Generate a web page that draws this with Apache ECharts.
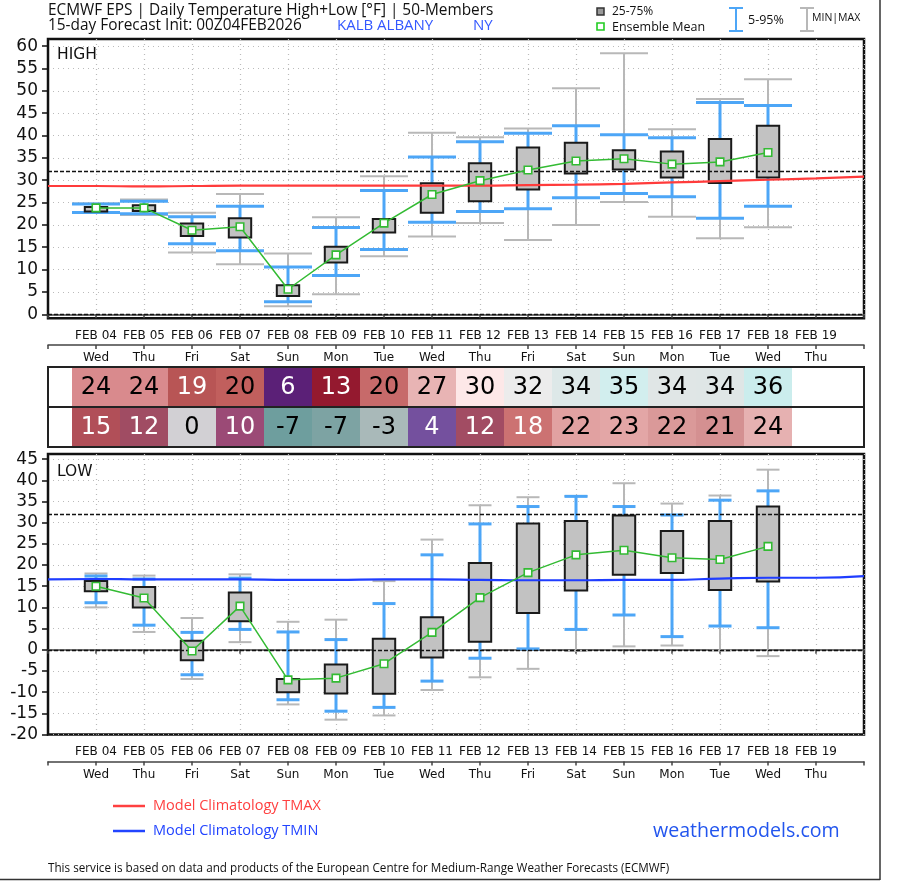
<!DOCTYPE html>
<html>
<head>
<meta charset="utf-8">
<script src="https://cdn.jsdelivr.net/npm/echarts@6/dist/echarts.min.js"></script>
<style>
  html, body { margin: 0; padding: 0; background: #fff; }
  #main { width: 898px; height: 883px; }
</style>
</head>
<body>
<div id="main"></div>
<script>
// axis labels (index 0 and 17 are the empty edges)
var dateLabels = ['', 'FEB 04', 'FEB 05', 'FEB 06', 'FEB 07', 'FEB 08', 'FEB 09', 'FEB 10', 'FEB 11',
  'FEB 12', 'FEB 13', 'FEB 14', 'FEB 15', 'FEB 16', 'FEB 17', 'FEB 18', 'FEB 19', ''];
var dayLabels = ['', 'Wed', 'Thu', 'Fri', 'Sat', 'Sun', 'Mon', 'Tue', 'Wed',
  'Thu', 'Fri', 'Sat', 'Sun', 'Mon', 'Tue', 'Wed', 'Thu', ''];
var days = [1, 2, 3, 4, 5, 6, 7, 8, 9, 10, 11, 12, 13, 14, 15];

var hiTicks = [0, 5, 10, 15, 20, 25, 30, 35, 40, 45, 50, 55, 60];
var loTicks = [-20, -15, -10, -5, 0, 5, 10, 15, 20, 25, 30, 35, 40, 45];

// HIGH
var hiMin  = [22.7, 22.2, 13.8, 11.2, 1.8, 4.5, 13.0, 17.4, 20.4, 16.6, 20.0, 25.1, 21.8, 17.0, 19.5];
var hiP05  = [22.8, 22.5, 15.8, 14.2, 2.8, 8.7, 14.5, 20.6, 23.0, 23.6, 26.1, 27.0, 26.3, 21.5, 24.2];
var hiP25  = [23.0, 23.1, 17.5, 17.2, 4.1, 11.6, 18.3, 22.7, 25.3, 27.9, 31.5, 32.4, 30.6, 29.4, 30.6];
var hiMean = [23.8, 23.8, 18.8, 19.6, 5.6, 13.3, 20.4, 26.8, 29.9, 32.3, 34.3, 34.8, 33.6, 34.1, 36.2];
var hiP75  = [24.0, 24.4, 20.3, 21.5, 6.5, 15.1, 21.3, 29.3, 33.8, 37.3, 38.4, 36.7, 36.4, 39.2, 42.2];
var hiP95  = [24.7, 25.3, 21.8, 24.2, 10.6, 19.4, 27.7, 35.2, 38.6, 40.5, 42.2, 40.2, 39.5, 47.4, 46.7];
var hiMax  = [24.8, 25.7, 22.7, 26.9, 13.6, 21.7, 30.9, 40.6, 39.6, 41.6, 50.6, 58.4, 41.4, 48.2, 52.6];
var climoMax = [28.7, 28.7, 28.6, 28.7, 28.8, 28.8, 28.8, 28.8, 28.8, 28.8, 28.9, 29.0, 29.2, 29.5, 29.8, 30.1, 30.4, 30.8];

// LOW
var loMin  = [10.0, 4.2, -6.9, 1.8, -12.9, -16.5, -15.5, -9.5, -6.5, -4.5, -0.3, 0.8, 1.0, -0.2, -1.5];
var loP05  = [11.1, 5.8, -5.9, 4.8, -11.8, -14.5, -13.6, -7.4, -2.0, 0.2, 4.8, 8.2, 3.1, 5.6, 5.2];
var loP25  = [13.8, 10.0, -2.5, 6.7, -10.0, -10.3, -10.4, -1.8, 1.9, 8.7, 14.0, 17.7, 18.1, 14.1, 16.1];
var loMean = [15.0, 12.2, -0.3, 10.3, -7.1, -6.7, -3.3, 4.1, 12.3, 18.2, 22.4, 23.5, 21.7, 21.3, 24.4];
var loP75  = [16.2, 14.8, 2.1, 13.5, -6.9, -3.5, 2.6, 7.7, 20.5, 29.8, 30.4, 31.7, 28.0, 30.4, 33.8];
var loP95  = [17.4, 16.7, 4.1, 16.9, 4.2, 2.4, 10.9, 22.4, 29.7, 33.8, 36.2, 33.8, 31.8, 35.3, 37.5];
var loMax  = [18.0, 17.5, 7.5, 17.8, 6.6, 7.1, 16.2, 26.0, 34.1, 36.0, 36.3, 39.3, 34.5, 36.4, 42.5];
var climoMin = [16.6, 16.7, 16.6, 16.6, 16.6, 16.5, 16.5, 16.6, 16.6, 16.5, 16.4, 16.4, 16.5, 16.5, 16.8, 17.0, 17.0, 17.4];

// table
var hiTable = [24, 24, 19, 20, 6, 13, 20, 27, 30, 32, 34, 35, 34, 34, 36];
var loTable = [15, 12, 0, 10, -7, -7, -3, 4, 12, 18, 22, 23, 22, 21, 24];
var hiCellColors = ['#d98a8d', '#d98a8d', '#b85555', '#c15f5d', '#5b2077', '#94192f', '#c76a6a', '#e8b4b4',
  '#fde8e8', '#ececec', '#dde8e8', '#d2eeee', '#e0e6e6', '#dfe6e6', '#cbeded'];
var hiTextColors = ['#000', '#000', '#fff', '#000', '#fff', '#fff', '#000', '#000',
  '#000', '#000', '#000', '#000', '#000', '#000', '#000'];
var loCellColors = ['#b14f58', '#a04c63', '#d2d0d4', '#9b4a76', '#6e9e9e', '#7da3a3', '#a9b9b9', '#74509e',
  '#a24c63', '#cc7272', '#e1a1a1', '#e3a6a6', '#da9999', '#d49091', '#e6b1b1'];
var loTextColors = ['#fff', '#fff', '#000', '#fff', '#000', '#000', '#000', '#fff',
  '#fff', '#fff', '#000', '#000', '#000', '#000', '#000'];

var BLUE = '#4da6f7', GRAY = '#b8b8b8', GREEN = '#33bb33';
var TXT = 'DejaVu Sans', SANS = 'Open Sans';

function pairs(xs, a, b) {
  return xs.map(function (x, i) { return b ? [x, a[i], b[i]] : [x, a[i]]; });
}

function whisker(color, lw, half) {
  return function (params, api) {
    var x = api.value(0);
    var a = api.coord([x, api.value(1)]);
    var b = api.coord([x, api.value(2)]);
    var st = { stroke: color, lineWidth: lw };
    return {
      type: 'group', children: [
        { type: 'line', shape: { x1: a[0], y1: a[1], x2: b[0], y2: b[1] }, style: st },
        { type: 'line', shape: { x1: a[0] - half, y1: a[1], x2: a[0] + half, y2: a[1] }, style: st },
        { type: 'line', shape: { x1: b[0] - half, y1: b[1], x2: b[0] + half, y2: b[1] }, style: st }
      ]
    };
  };
}

function boxItem(params, api) {
  var x = api.value(0);
  var a = api.coord([x, api.value(1)]);
  var b = api.coord([x, api.value(2)]);
  return {
    type: 'rect',
    shape: { x: a[0] - 11.2, y: b[1], width: 22.4, height: a[1] - b[1] },
    style: { fill: '#c2c2c2', stroke: '#1a1a1a', lineWidth: 2 }
  };
}

function cellItem(colors, textColors) {
  return function (params, api) {
    var i = params.dataIndex;
    var p = api.coord([api.value(0), api.value(1)]);
    var h = api.size([0, 1])[1];
    return {
      type: 'group', children: [
        { type: 'rect', shape: { x: p[0] - 24, y: p[1] - h / 2 + 1, width: 48, height: h - 2 },
          style: { fill: colors[i] } },
        { type: 'text', x: p[0], y: p[1] + 1,
          style: { text: String(api.value(2)), fill: textColors[i], font: '24px "DejaVu Sans"',
            align: 'center', verticalAlign: 'middle' } }
      ]
    };
  };
}

var labelStyle = { fontFamily: TXT, fontSize: 12, color: '#111', interval: 0, margin: 7 };

// plot x axis: grid bottom border carries the dotted split lines, the line itself sits 4.5px below
function plotXAxis(gridIndex) {
  return { type: 'category', gridIndex: gridIndex, data: dateLabels, boundaryGap: false, offset: 4.5,
    axisLine: { lineStyle: { color: '#444', width: 1.5 } },
    axisTick: { interval: 0, length: 4, lineStyle: { color: '#444', width: 1.5 } },
    axisLabel: labelStyle,
    splitLine: { show: true, interval: 0, lineStyle: { color: '#bbb', type: [1, 4], width: 1.2 } } };
}
function dayXAxis(gridIndex) {
  return { type: 'category', gridIndex: gridIndex, data: dayLabels, boundaryGap: false,
    axisLine: { lineStyle: { color: '#444', width: 1.5 } },
    axisTick: { interval: 0, length: 4, lineStyle: { color: '#444', width: 1.5 } },
    axisLabel: labelStyle, splitLine: { show: false } };
}
function hiddenY(gridIndex) {
  return { type: 'value', gridIndex: gridIndex, show: false, splitLine: { show: false } };
}

function yAxis(gridIndex, min, max, ticks) {
  return {
    type: 'value', gridIndex: gridIndex, min: min, max: max,
    axisLine: { show: true, lineStyle: { color: '#111', width: 2 } },
    axisTick: { show: true, length: 6, customValues: ticks, lineStyle: { color: '#111', width: 1.5 } },
    axisLabel: { customValues: ticks, fontFamily: TXT, fontSize: 17, color: '#111', margin: 10 },
    splitLine: { show: true, lineStyle: { color: '#bbb', type: [1, 4], width: 1.2 } }
  };
}

function panelSeries(xi, yi, mn, p05, p25, mean, p75, p95, mx, climo, climoColor, half) {
  return [
    { type: 'custom', xAxisIndex: xi, yAxisIndex: yi, renderItem: whisker(GRAY, 2, half),
      data: pairs(days, mn, mx), encode: { x: 0, y: [1, 2] }, z: 2 },
    { type: 'custom', xAxisIndex: xi, yAxisIndex: yi, renderItem: whisker(BLUE, 3, half),
      data: pairs(days, p05, p95), encode: { x: 0, y: [1, 2] }, z: 3 },
    { type: 'custom', xAxisIndex: xi, yAxisIndex: yi, renderItem: boxItem,
      data: pairs(days, p25, p75), encode: { x: 0, y: [1, 2] }, z: 4 },
    { type: 'line', xAxisIndex: xi, yAxisIndex: yi, data: climo, smooth: true, showSymbol: false,
      lineStyle: { color: climoColor, width: 2.2 }, z: 5,
      markLine: { silent: true, symbol: 'none', label: { show: false },
        lineStyle: { color: '#111', type: [4, 2], width: 1.4 },
        data: [{ yAxis: 0 }, { yAxis: 32 }] } },
    { type: 'line', xAxisIndex: xi, yAxisIndex: yi, data: pairs(days, mean), z: 6,
      symbol: 'rect', symbolSize: 7.5,
      lineStyle: { color: GREEN, width: 1.5 },
      itemStyle: { color: '#fff', borderColor: GREEN, borderWidth: 1.6 } }
  ];
}

function txt(x, y, s, size, color, family, extra) {
  return {
    type: 'text', x: x, y: y, silent: true,
    style: Object.assign({ text: s, fill: color || '#111', font: size + 'px "' + (family || SANS) + '"',
      verticalAlign: 'middle' }, extra || {})
  };
}
function seg(x1, y1, x2, y2, color, w) {
  return { type: 'line', silent: true, shape: { x1: x1, y1: y1, x2: x2, y2: y2 },
    style: { stroke: color, lineWidth: w } };
}

var chart = echarts.init(document.getElementById('main'), null, { renderer: 'canvas' });

var option = {
  animation: false,
  grid: [
    // 0 high plot, 1 high day row, 2 low plot, 3 low day row, 4 table
    { left: 48, top: 39, width: 816, height: 279.3, show: true, borderColor: '#111', borderWidth: 2.5, backgroundColor: 'transparent' },
    { left: 48, top: 340, width: 816, height: 5, show: false },
    { left: 48, top: 454, width: 816, height: 280.5, show: true, borderColor: '#111', borderWidth: 2.5, backgroundColor: 'transparent' },
    { left: 48, top: 756, width: 816, height: 5.5, show: false },
    { left: 48, top: 367, width: 816, height: 80, show: true, borderColor: '#222', borderWidth: 2, backgroundColor: 'transparent' }
  ],
  xAxis: [
    plotXAxis(0),
    dayXAxis(1),
    plotXAxis(2),
    dayXAxis(3),
    { type: 'category', gridIndex: 4, data: dateLabels, boundaryGap: false,
      axisLine: { show: false }, axisTick: { show: false }, axisLabel: { show: false }, splitLine: { show: false } }
  ],
  yAxis: [
    yAxis(0, -0.9, 61.6, hiTicks),
    hiddenY(1),
    yAxis(2, -20, 46.2, loTicks),
    hiddenY(3),
    { type: 'category', gridIndex: 4, data: ['low', 'high'],
      axisLine: { show: false }, axisTick: { show: false }, axisLabel: { show: false },
      splitLine: { show: true, lineStyle: { color: '#222', width: 2 } } }
  ],
  series: []
    .concat(panelSeries(0, 0, hiMin, hiP05, hiP25, hiMean, hiP75, hiP95, hiMax, climoMax, '#ff3b3b', 24))
    .concat(panelSeries(2, 2, loMin, loP05, loP25, loMean, loP75, loP95, loMax, climoMin, '#1f3dff', 11.5))
    .concat([
      { type: 'custom', xAxisIndex: 4, yAxisIndex: 4, renderItem: cellItem(hiCellColors, hiTextColors),
        data: days.map(function (x, i) { return [x, 'high', hiTable[i]]; }), z: 1 },
      { type: 'custom', xAxisIndex: 4, yAxisIndex: 4, renderItem: cellItem(loCellColors, loTextColors),
        data: days.map(function (x, i) { return [x, 'low', loTable[i]]; }), z: 1 }
    ]),
  graphic: [
    txt(48, 11, 'ECMWF EPS | Daily Temperature High+Low [°F] | 50-Members', 15.4),
    txt(48, 26, '15-day Forecast Init: 00Z04FEB2026', 15.4),
    txt(337, 26, 'KALB ALBANY', 15, '#3358ff'),
    txt(473, 26, 'NY', 15, '#3358ff'),
    { type: 'rect', silent: true, shape: { x: 597, y: 8, width: 7, height: 7 },
      style: { fill: '#999', stroke: '#333', lineWidth: 1.5 } },
    txt(612, 12, '25-75%', 12),
    { type: 'rect', silent: true, shape: { x: 597, y: 23, width: 7, height: 7 },
      style: { fill: '#fff', stroke: '#22cc22', lineWidth: 1.6 } },
    txt(612, 27, 'Ensemble Mean', 12.5),
    seg(736, 8, 736, 31, BLUE, 2), seg(729, 8, 743, 8, BLUE, 2), seg(729, 31, 743, 31, BLUE, 2),
    txt(748, 20, '5-95%', 12.5),
    seg(807, 8, 807, 31, GRAY, 2), seg(800, 8, 814, 8, GRAY, 2), seg(800, 31, 814, 31, GRAY, 2),
    txt(812, 18, 'MIN|MAX', 10.5),
    txt(57, 55, 'HIGH', 15.5, '#111', TXT),
    txt(57, 472, 'LOW', 15.5, '#111', TXT),
    seg(113, 806, 145, 806, '#ff4040', 2.5),
    txt(153, 806, 'Model Climatology TMAX', 14.5, '#ff4040'),
    seg(113, 831, 145, 831, '#2244ff', 2.5),
    txt(153, 831, 'Model Climatology TMIN', 14.5, '#2244ff'),
    txt(653, 831, 'weathermodels.com', 19.6, '#2255ee'),
    txt(48, 869, 'This service is based on data and products of the European Centre for Medium-Range Weather Forecasts (ECMWF)', 11.7),
    seg(880, 0, 880, 880, '#333', 1.5),
    seg(0, 879.5, 880, 879.5, '#333', 1.5)
  ]
};

chart.setOption(option);
</script>
</body>
</html>
